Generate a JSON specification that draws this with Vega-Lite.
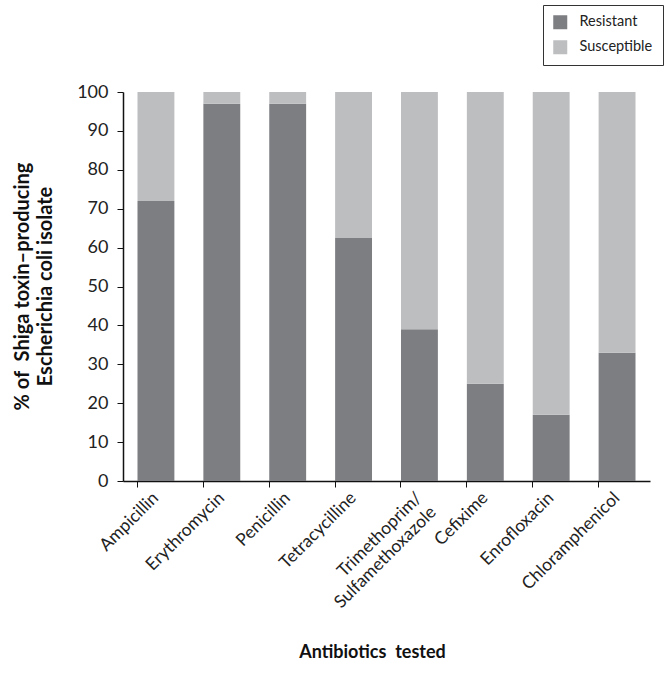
{
  "$schema": "https://vega.github.io/schema/vega-lite/v6.json",
  "width": 527,
  "height": 389,
  "autosize": "none",
  "padding": {"left": 123, "top": 92, "right": 20, "bottom": 200},
  "background": "white",
  "config": {"view": {"stroke": null}, "font": "Lato"},
  "data": {
    "values": [
      {"antibiotic": "Ampicillin", "status": "Resistant", "pct": 72},
      {"antibiotic": "Ampicillin", "status": "Susceptible", "pct": 28},
      {"antibiotic": "Erythromycin", "status": "Resistant", "pct": 97},
      {"antibiotic": "Erythromycin", "status": "Susceptible", "pct": 3},
      {"antibiotic": "Penicillin", "status": "Resistant", "pct": 97},
      {"antibiotic": "Penicillin", "status": "Susceptible", "pct": 3},
      {"antibiotic": "Tetracycilline", "status": "Resistant", "pct": 62.5},
      {"antibiotic": "Tetracycilline", "status": "Susceptible", "pct": 37.5},
      {"antibiotic": "Trimethoprim/Sulfamethoxazole", "status": "Resistant", "pct": 39},
      {"antibiotic": "Trimethoprim/Sulfamethoxazole", "status": "Susceptible", "pct": 61},
      {"antibiotic": "Cefixime", "status": "Resistant", "pct": 25},
      {"antibiotic": "Cefixime", "status": "Susceptible", "pct": 75},
      {"antibiotic": "Enrofloxacin", "status": "Resistant", "pct": 17},
      {"antibiotic": "Enrofloxacin", "status": "Susceptible", "pct": 83},
      {"antibiotic": "Chloramphenicol", "status": "Resistant", "pct": 33},
      {"antibiotic": "Chloramphenicol", "status": "Susceptible", "pct": 67}
    ]
  },
  "mark": {"type": "bar"},
  "encoding": {
    "x": {
      "field": "antibiotic",
      "type": "nominal",
      "sort": null,
      "scale": {"paddingInner": 0.44, "paddingOuter": 0.22},
      "axis": {
        "title": "Antibiotics\u00a0 tested",
        "titleFontSize": 18,
        "titleFontWeight": "bold",
        "titleColor": "#111",
        "titleX": 249,
        "titleY": 171,
        "titleAlign": "center",
        "titleBaseline": "middle",
        "labelAngle": -45,
        "labelAlign": "right",
        "labelBaseline": "middle",
        "labelFontSize": 17.5,
        "labelColor": "#222",
        "labelPadding": 8,
        "labelDx": 9,
        "labelDy": 8,
        "labelExpr": "datum.value == 'Trimethoprim/Sulfamethoxazole' ? ['Trimethoprim/', 'Sulfamethoxazole'] : datum.label",
        "labelLineHeight": 20,
        "bandPosition": 0,
        "ticks": true,
        "tickSize": 6,
        "tickColor": "#111",
        "domainColor": "#111",
        "domainWidth": 1.5,
        "labelLimit": 300
      }
    },
    "y": {
      "field": "pct",
      "type": "quantitative",
      "stack": "zero",
      "scale": {"domain": [0, 100]},
      "axis": {
        "title": ["% of\u00a0 Shiga toxin–producing", "Escherichia coli isolate"],
        "titleFontSize": 20,
        "titleFontWeight": "bold",
        "titleColor": "#111",
        "titleAngle": -90,
        "titleX": -101,
        "titleY": 194,
        "titleAlign": "center",
        "titleBaseline": "middle",
        "titleLineHeight": 23,
        "values": [0, 10, 20, 30, 40, 50, 60, 70, 80, 90, 100],
        "grid": false,
        "labelFontSize": 18,
        "labelColor": "#222",
        "labelPadding": 9,
        "tickSize": 6,
        "tickColor": "#111",
        "domainColor": "#111",
        "domainWidth": 1.5
      }
    },
    "color": {
      "field": "status",
      "type": "nominal",
      "scale": {"domain": ["Resistant", "Susceptible"], "range": ["#7d7e82", "#bdbec0"]},
      "legend": {
        "title": null,
        "orient": "none",
        "legendX": 420,
        "legendY": -87,
        "symbolType": "square",
        "symbolSize": 196,
        "symbolStrokeWidth": 0,
        "labelFontSize": 14.5,
        "labelOffset": 12,
        "labelColor": "#222",
        "rowPadding": 9,
        "padding": 10,
        "strokeColor": "#333",
        "labelLimit": 200
      }
    },
    "order": {"field": "status", "sort": "ascending"}
  }
}
